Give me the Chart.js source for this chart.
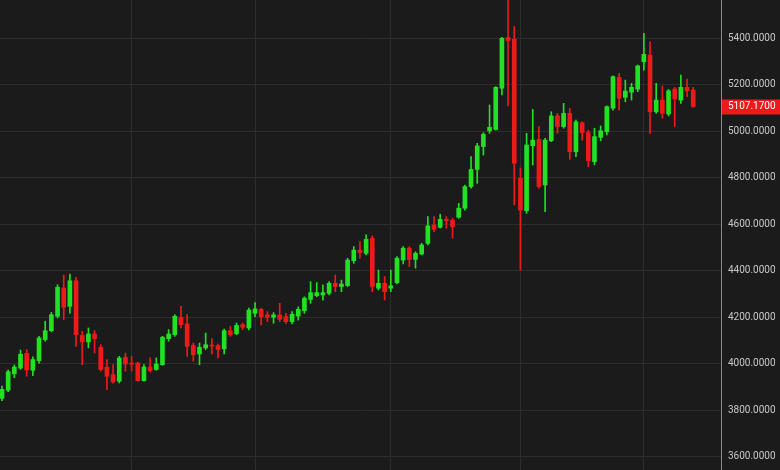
<!DOCTYPE html>
<html>
<head>
<meta charset="utf-8">
<script src="https://cdn.jsdelivr.net/npm/chart.js@4.4.1/dist/chart.umd.min.js"></script>
<style>
html,body{margin:0;padding:0;background:#1b1b1b;overflow:hidden}
#wrap{width:780px;height:470px;position:relative}
canvas{display:block}
</style>
</head>
<body>
<div id="wrap"><canvas id="c" width="780" height="470"></canvas></div>
<script>
// ---- data (daily candles) ----
const dates = [
"2025-10-03","2025-10-06","2025-10-07","2025-10-08","2025-10-09","2025-10-10","2025-10-13","2025-10-14","2025-10-15","2025-10-16",
"2025-10-17","2025-10-20","2025-10-21","2025-10-22","2025-10-23","2025-10-24","2025-10-27","2025-10-28","2025-10-29","2025-10-30",
"2025-10-31","2025-11-03","2025-11-04","2025-11-05","2025-11-06","2025-11-07","2025-11-10","2025-11-11","2025-11-12","2025-11-13",
"2025-11-14","2025-11-17","2025-11-18","2025-11-19","2025-11-20","2025-11-21","2025-11-24","2025-11-25","2025-11-26","2025-11-27",
"2025-11-28","2025-12-01","2025-12-02","2025-12-03","2025-12-04","2025-12-05","2025-12-08","2025-12-09","2025-12-10","2025-12-11",
"2025-12-12","2025-12-15","2025-12-16","2025-12-17","2025-12-18","2025-12-19","2025-12-22","2025-12-23","2025-12-24","2025-12-26",
"2025-12-29","2025-12-30","2025-12-31","2026-01-02","2026-01-05","2026-01-06","2026-01-07","2026-01-08","2026-01-09","2026-01-12",
"2026-01-13","2026-01-14","2026-01-15","2026-01-16","2026-01-19","2026-01-20","2026-01-21","2026-01-22","2026-01-23","2026-01-26",
"2026-01-27","2026-01-28","2026-01-29","2026-01-30","2026-02-02","2026-02-03","2026-02-04","2026-02-05","2026-02-06","2026-02-09",
"2026-02-10","2026-02-11","2026-02-12","2026-02-13","2026-02-16","2026-02-17","2026-02-18","2026-02-19","2026-02-20","2026-02-23",
"2026-02-24","2026-02-25","2026-02-26","2026-02-27","2026-03-02","2026-03-03","2026-03-04","2026-03-05","2026-03-06","2026-03-09",
"2026-03-10","2026-03-11","2026-03-12"
];
const opens = [
3852,3887,3958,3982,4046,3973,4014,4105,4143,4205,
4327,4248,4358,4123,4095,4129,4072,3986,3954,3926,
4029,4004,4004,3928,3987,3976,3997,4109,4126,4201,
4172,4080,4043,4069,4081,4079,4065,4143,4130,4169,
4155,4218,4235,4211,4201,4211,4204,4182,4206,4229,
4278,4294,4297,4304,4347,4333,4337,4444,4490,4476,
4541,4326,4347,4326,4350,4447,4498,4450,4473,4519,
4598,4588,4622,4619,4631,4670,4763,4837,4935,5003,
5009,5186,5405,5397,4799,4659,4939,4966,4770,4960,
5067,5021,5078,4913,5038,4995,4870,4975,4999,5100,
5233,5147,5169,5182,5300,5329,5085,5135,5075,5183,
5135,5190,5178
];
const highs = [
3905,3974,3996,4060,4062,4031,4119,4184,4222,4341,
4382,4387,4373,4141,4155,4143,4083,4019,3997,4033,
4047,4033,4007,3997,4026,4026,4119,4148,4212,4248,
4212,4090,4090,4133,4109,4086,4150,4162,4176,4176,
4240,4264,4240,4225,4221,4261,4218,4225,4246,4289,
4354,4350,4340,4354,4383,4361,4455,4505,4526,4555,
4551,4404,4376,4404,4462,4505,4505,4483,4519,4634,
4634,4644,4634,4627,4691,4770,4892,4949,4995,5114,
5193,5405,5595,5451,4843,4992,5095,5021,4971,5085,
5078,5121,5100,5049,5042,5006,5014,5024,5110,5239,
5250,5221,5207,5286,5422,5386,5207,5196,5181,5190,
5243,5225,5190
];
const lows = [
3842,3881,3941,3977,3947,3950,4004,4098,4138,4198,
4191,4219,4076,3997,4069,4047,3969,3890,3918,3918,
3969,3969,3926,3926,3966,3973,3994,4098,4119,4155,
4033,4012,3997,4062,4043,4026,4043,4119,4126,4148,
4146,4203,4168,4182,4175,4182,4175,4172,4189,4218,
4261,4289,4275,4297,4311,4311,4333,4433,4455,4469,
4311,4318,4275,4311,4344,4430,4418,4412,4469,4512,
4569,4584,4584,4541,4627,4662,4756,4777,4899,4992,
5006,5157,5110,4684,4404,4648,4856,4756,4655,4956,
4992,5014,4880,4892,4963,4849,4856,4960,4985,5092,
5092,5128,5135,5171,5264,4992,5078,5057,5067,5021,
5121,5150,5104
];
const closes = [
3891,3967,3987,4042,3974,4019,4112,4143,4212,4330,
4244,4358,4126,4095,4129,4109,3976,3947,3923,4026,
4000,3999,3928,3987,3971,4000,4115,4129,4205,4169,
4076,4040,4072,4083,4077,4062,4143,4126,4166,4158,
4232,4237,4203,4201,4211,4192,4182,4214,4235,4283,
4307,4307,4307,4347,4333,4344,4447,4490,4479,4536,
4333,4347,4311,4336,4455,4498,4450,4476,4512,4594,
4579,4622,4616,4590,4670,4763,4837,4938,4988,5018,
5190,5401,5391,4863,4662,4942,4963,4763,4963,5067,
5021,5078,4913,5042,4995,4874,4978,5003,5107,5236,
5143,5174,5190,5282,5332,5085,5135,5078,5175,5140,
5190,5175,5107.17
];
const yTicks = [3600, 3800, 4000, 4200, 4400, 4600, 4800, 5000, 5200, 5400];
const yMin = 3544, yMax = 5565.6;

// ---- derived ----
const GREEN = '#22e022', RED = '#ee1a1a';
const idx = dates.map((d, i) => i);
const colors = idx.map(i => closes[i] >= opens[i] ? GREEN : RED);
const monthStarts = idx.filter(i => i > 0 && dates[i].slice(0, 7) !== dates[i - 1].slice(0, 7));
const lastClose = closes[closes.length - 1];

const priceLabel = {
  id: 'priceLabel',
  afterDraw(chart) {
    const ys = chart.scales.y, ctx = chart.ctx;
    const py = ys.getPixelForValue(lastClose);
    ctx.save();
    ctx.fillStyle = RED;
    ctx.fillRect(ys.left + 1, Math.round(py) - 7.5, ys.right - ys.left - 1, 15);
    ctx.fillStyle = '#ffffff';
    ctx.font = '10px Roboto';
    ctx.textAlign = 'left';
    ctx.textBaseline = 'middle';
    ctx.fillText(lastClose.toFixed(4), ys.left + 7, py);
    ctx.restore();
  }
};

const common = { grouped: false, barPercentage: 1, categoryPercentage: 1, borderWidth: 0, backgroundColor: colors };

new Chart(document.getElementById('c'), {
  type: 'bar',
  data: {
    datasets: [
      Object.assign({ label: 'Body', order: 0, maxBarThickness: 4, minBarLength: 1,
        data: idx.map(i => ({ x: i, y: [opens[i], closes[i]] })) }, common),
      Object.assign({ label: 'Wick', order: 1, maxBarThickness: 1,
        data: idx.map(i => ({ x: i, y: [lows[i], highs[i]] })) }, common)
    ]
  },
  options: {
    responsive: false,
    animation: false,
    devicePixelRatio: 1,
    layout: { padding: 0 },
    plugins: { legend: { display: false }, tooltip: { enabled: false } },
    scales: {
      x: {
        type: 'linear', min: -0.324, max: 116.5, bounds: 'data', offset: false,
        ticks: { display: false },
        grid: { color: '#2d2d2d', drawTicks: false, offset: false },
        border: { display: false },
        afterBuildTicks: s => { s.ticks = monthStarts.map(v => ({ value: v })); },
        afterFit: s => { s.paddingLeft = 0; s.paddingRight = 0; }
      },
      y: {
        position: 'right', min: yMin, max: yMax, bounds: 'data', beginAtZero: false,
        ticks: { color: '#c8c8c8', font: { family: 'Roboto', size: 10 }, padding: 7,
          callback: v => Number(v).toFixed(4) },
        grid: { color: '#2d2d2d', drawTicks: false },
        border: { color: '#8a8a8a', width: 1 },
        afterBuildTicks: s => { s.ticks = yTicks.map(v => ({ value: v })); },
        afterFit: s => { s.width = 59; s.paddingTop = 0; s.paddingBottom = 0; }
      }
    }
  },
  plugins: [priceLabel]
});
</script>
</body>
</html>
